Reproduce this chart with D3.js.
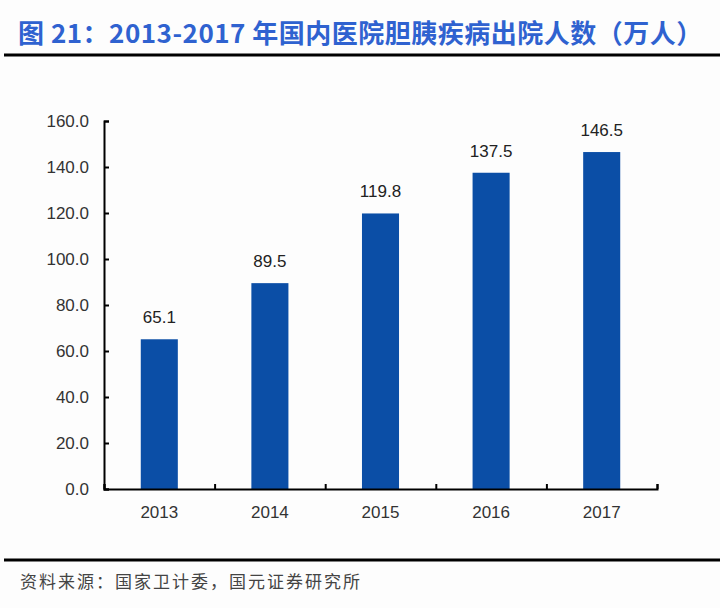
<!DOCTYPE html>
<html>
<head>
<meta charset="utf-8">
<script src="https://cdn.jsdelivr.net/npm/d3@7"></script>
<style>
  body { margin: 0; background: #fff; }
  svg { display: block; }
</style>
</head>
<body>
<svg id="chart"></svg>
<script>
const years = ['2013', '2014', '2015', '2016', '2017']
const patients = [65.1, 89.5, 119.8, 137.5, 146.5]
const yTicks = [0, 20, 40, 60, 80, 100, 120, 140, 160]

const width = 720
const height = 608
const margin = { top: 121, right: 63, bottom: 119, left: 104 }
const innerWidth = width - margin.left - margin.right
const innerHeight = height - margin.top - margin.bottom

const svg = d3.select('#chart')
  .attr('width', width)
  .attr('height', height)

svg.append('rect')
  .attr('width', width)
  .attr('height', height)
  .attr('fill', '#fdfdfd')

// Title
svg.append('text')
  .attr('x', 18)
  .attr('y', 43)
  .text('图 21：2013-2017 年国内医院胆胰疾病出院人数（万人）')
  .attr('font-family', 'Noto Sans CJK SC, sans-serif')
  .attr('font-size', '26px')
  .attr('letter-spacing', '0.5px')
  .attr('font-weight', 'bold')
  .attr('fill', '#2f62d0')

svg.append('line')
  .attr('x1', 4).attr('x2', width)
  .attr('y1', 55).attr('y2', 55)
  .attr('stroke', '#000')
  .attr('stroke-width', 3)

svg.append('line')
  .attr('x1', 4).attr('x2', width)
  .attr('y1', 560).attr('y2', 560)
  .attr('stroke', '#000')
  .attr('stroke-width', 3)

svg.append('text')
  .attr('x', 20)
  .attr('y', 588)
  .text('资料来源：国家卫计委，国元证券研究所')
  .attr('font-family', 'Noto Sans CJK SC, sans-serif')
  .attr('font-size', '17px')
  .attr('letter-spacing', '2px')
  .attr('fill', '#444')

const g = svg.append('g')
  .attr('transform', `translate(${margin.left},${margin.top})`)

const xScale = d3.scaleBand()
  .domain(years)
  .range([0, innerWidth])
  .paddingInner(0.665)
  .paddingOuter(0.3325)

const yScale = d3.scaleLinear()
  .domain([0, 160])
  .range([innerHeight, 0])

// Bars
g.selectAll('.bar')
  .data(years)
  .enter().append('rect')
  .attr('class', 'bar')
  .attr('x', d => xScale(d))
  .attr('y', (d, i) => yScale(patients[i]))
  .attr('width', xScale.bandwidth())
  .attr('height', (d, i) => innerHeight - yScale(patients[i]))
  .attr('fill', '#0b4ea6')

// Value labels
g.selectAll('.value')
  .data(years)
  .enter().append('text')
  .attr('class', 'value')
  .attr('x', d => xScale(d) + xScale.bandwidth() / 2)
  .attr('y', (d, i) => yScale(patients[i]) - 16)
  .attr('text-anchor', 'middle')
  .text((d, i) => patients[i].toFixed(1))
  .attr('font-family', 'Liberation Sans, Arial, sans-serif')
  .attr('font-size', '17px')
  .attr('fill', '#222')

// Axes
const yAxis = g.append('g')
  .call(d3.axisLeft(yScale).tickValues(yTicks).tickSize(-5).tickPadding(15).tickFormat(d3.format('.1f')))

const xTickScale = d3.scaleLinear().domain([0, years.length]).range([0, innerWidth])
const xAxis = g.append('g')
  .attr('transform', `translate(0,${innerHeight})`)
  .call(d3.axisBottom(xTickScale).tickValues(d3.range(years.length + 1)).tickSize(-5).tickFormat(''))
xAxis.selectAll('.tick text').remove()

g.append('g')
  .attr('transform', `translate(0,${innerHeight})`)
  .call(d3.axisBottom(xScale).tickSize(0).tickPadding(17))
  .call(a => a.select('.domain').remove())
  .selectAll('text')
  .attr('font-family', 'Liberation Sans, Arial, sans-serif')
  .attr('font-size', '17px')
  .attr('fill', '#333')

;[yAxis, xAxis].forEach(a => {
  a.select('.domain').attr('stroke', '#000').attr('stroke-width', 2)
  a.selectAll('.tick line').attr('stroke', '#000').attr('stroke-width', 2)
})
yAxis.selectAll('text')
  .attr('font-family', 'Liberation Sans, Arial, sans-serif')
  .attr('font-size', '17px')
  .attr('fill', '#333')
</script>
</body>
</html>
